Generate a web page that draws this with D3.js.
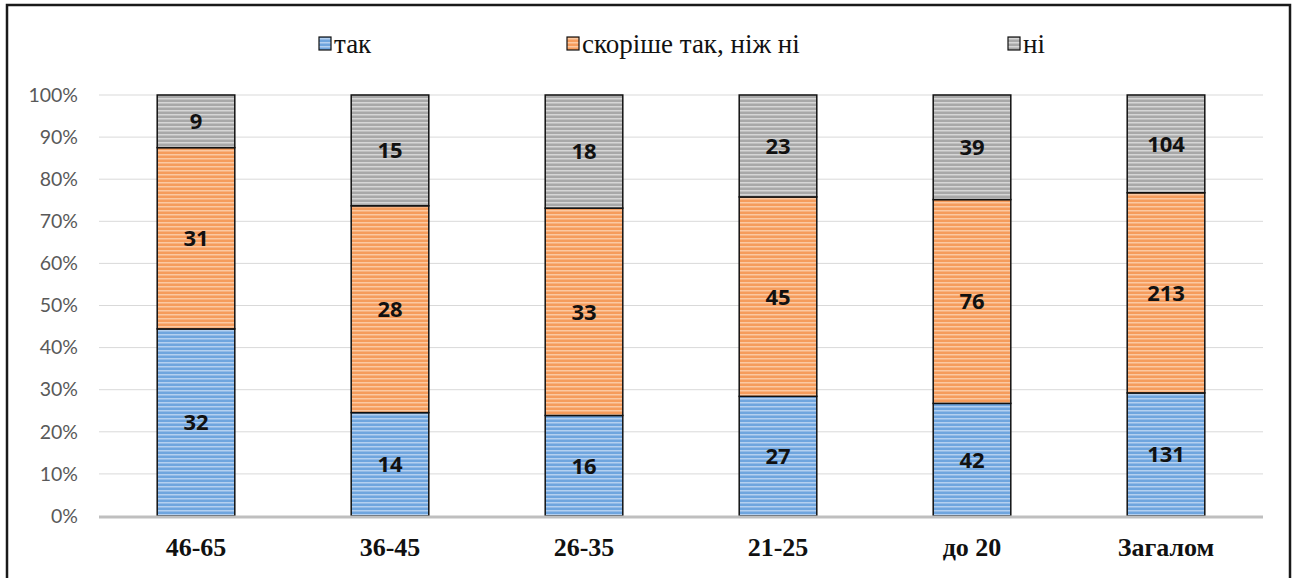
<!DOCTYPE html>
<html>
<head>
<meta charset="utf-8">
<script src="https://cdn.jsdelivr.net/npm/d3@7"></script>
<style>
  html, body { margin: 0; padding: 0; background: #fff; }
  svg { display: block; }
</style>
</head>
<body>
<svg id="chart" width="1296" height="578"></svg>
<script>
// Age groups and answer counts
const categories = ["46-65", "36-45", "26-35", "21-25", "до 20", "Загалом"];
const seriesNames = ["так", "скоріше так, ніж ні", "ні"];
const yes = [32, 14, 16, 27, 42, 131];
const ratherYes = [31, 28, 33, 45, 76, 213];
const no = [9, 15, 18, 23, 39, 104];
const yTicks = [0, 0.1, 0.2, 0.3, 0.4, 0.5, 0.6, 0.7, 0.8, 0.9, 1.0];

const svg = d3.select("#chart");

// striped fills for each series
const fills = [
  { id: "p-yes", base: "#6fa5de", light: "#b4d0f0" },
  { id: "p-rather", base: "#f59c5c", light: "#fbc9a2" },
  { id: "p-no", base: "#a8a8a8", light: "#d6d6d6" }
];
const defs = svg.append("defs");
fills.forEach(f => {
  const p = defs.append("pattern")
    .attr("id", f.id).attr("patternUnits", "userSpaceOnUse")
    .attr("width", 8).attr("height", 4);
  p.append("rect").attr("width", 8).attr("height", 4).attr("fill", f.base);
  p.append("rect").attr("y", 2).attr("width", 8).attr("height", 1.5).attr("fill", f.light);
});

// outer frame
svg.append("rect")
  .attr("x", 7).attr("y", 5).attr("width", 1283).attr("height", 600)
  .attr("fill", "none").attr("stroke", "#1a1a1a").attr("stroke-width", 2.5);

const plot = { left: 99, right: 1263, top: 95, bottom: 516 };

const x = d3.scaleBand().domain(categories)
  .range([plot.left, plot.right]).paddingInner(0.6).paddingOuter(0.3);
const y = d3.scaleLinear().domain([0, 1]).range([plot.bottom, plot.top]);

// gridlines
svg.append("g").selectAll("line").data(yTicks.filter(t => t > 0)).join("line")
  .attr("x1", plot.left).attr("x2", plot.right)
  .attr("y1", d => y(d)).attr("y2", d => y(d))
  .attr("stroke", "#d9d9d9").attr("stroke-width", 1);

// y axis tick labels
const yAxis = d3.axisLeft(y).tickValues(yTicks).tickFormat(d3.format(".0%")).tickSize(0).tickPadding(0);
const ya = svg.append("g").attr("transform", `translate(78,0)`).call(yAxis);
ya.select(".domain").remove();
ya.selectAll("text")
  .attr("font-family", "Lato, 'Open Sans', sans-serif")
  .attr("font-size", 19.5).attr("fill", "#595959");

// stacked data, normalised to 100%
const rows = categories.map((c, i) => ({ cat: c, "так": yes[i], "скоріше так, ніж ні": ratherYes[i], "ні": no[i] }));
const stack = d3.stack().keys(seriesNames).offset(d3.stackOffsetExpand);
const layers = stack(rows);

layers.forEach((layer, li) => {
  const g = svg.append("g");
  g.selectAll("rect").data(layer).join("rect")
    .attr("x", d => x(d.data.cat))
    .attr("width", x.bandwidth())
    .attr("y", d => y(d[1]))
    .attr("height", d => y(d[0]) - y(d[1]))
    .attr("fill", `url(#${fills[li].id})`)
    .attr("stroke", "#111").attr("stroke-width", 1.5);
  g.selectAll("text").data(layer).join("text")
    .attr("x", d => x(d.data.cat) + x.bandwidth() / 2)
    .attr("y", d => (y(d[0]) + y(d[1])) / 2)
    .attr("dy", "0.36em")
    .attr("text-anchor", "middle")
    .attr("font-family", "'Open Sans', 'Liberation Sans', sans-serif")
    .attr("font-weight", "bold").attr("font-size", 22).attr("fill", "#111")
    .text(d => d.data[layer.key]);
});

// baseline axis
svg.append("line")
  .attr("x1", plot.left).attr("x2", plot.right)
  .attr("y1", plot.bottom + 1).attr("y2", plot.bottom + 1)
  .attr("stroke", "#bfbfbf").attr("stroke-width", 3);

// category labels
const xAxis = d3.axisBottom(x).tickSize(0).tickPadding(0);
const xa = svg.append("g").attr("transform", `translate(0,${plot.bottom + 22})`).call(xAxis);
xa.select(".domain").remove();
xa.selectAll("text")
  .attr("font-family", "'Liberation Serif', 'Times New Roman', serif")
  .attr("font-weight", "bold").attr("font-size", 26).attr("fill", "#111");

// legend
const legendX = [319, 567, 1008];
const lg = svg.append("g");
seriesNames.forEach((name, i) => {
  lg.append("rect")
    .attr("x", legendX[i]).attr("y", 37).attr("width", 12).attr("height", 13)
    .attr("fill", `url(#${fills[i].id})`).attr("stroke", "#111").attr("stroke-width", 1.2);
  lg.append("text")
    .attr("x", legendX[i] + 15).attr("y", 53)
    .style("font-family", "'Liberation Serif', 'Times New Roman', serif")
    .attr("font-size", 27).attr("fill", "#111")
    .text(name);
});
</script>
</body>
</html>
